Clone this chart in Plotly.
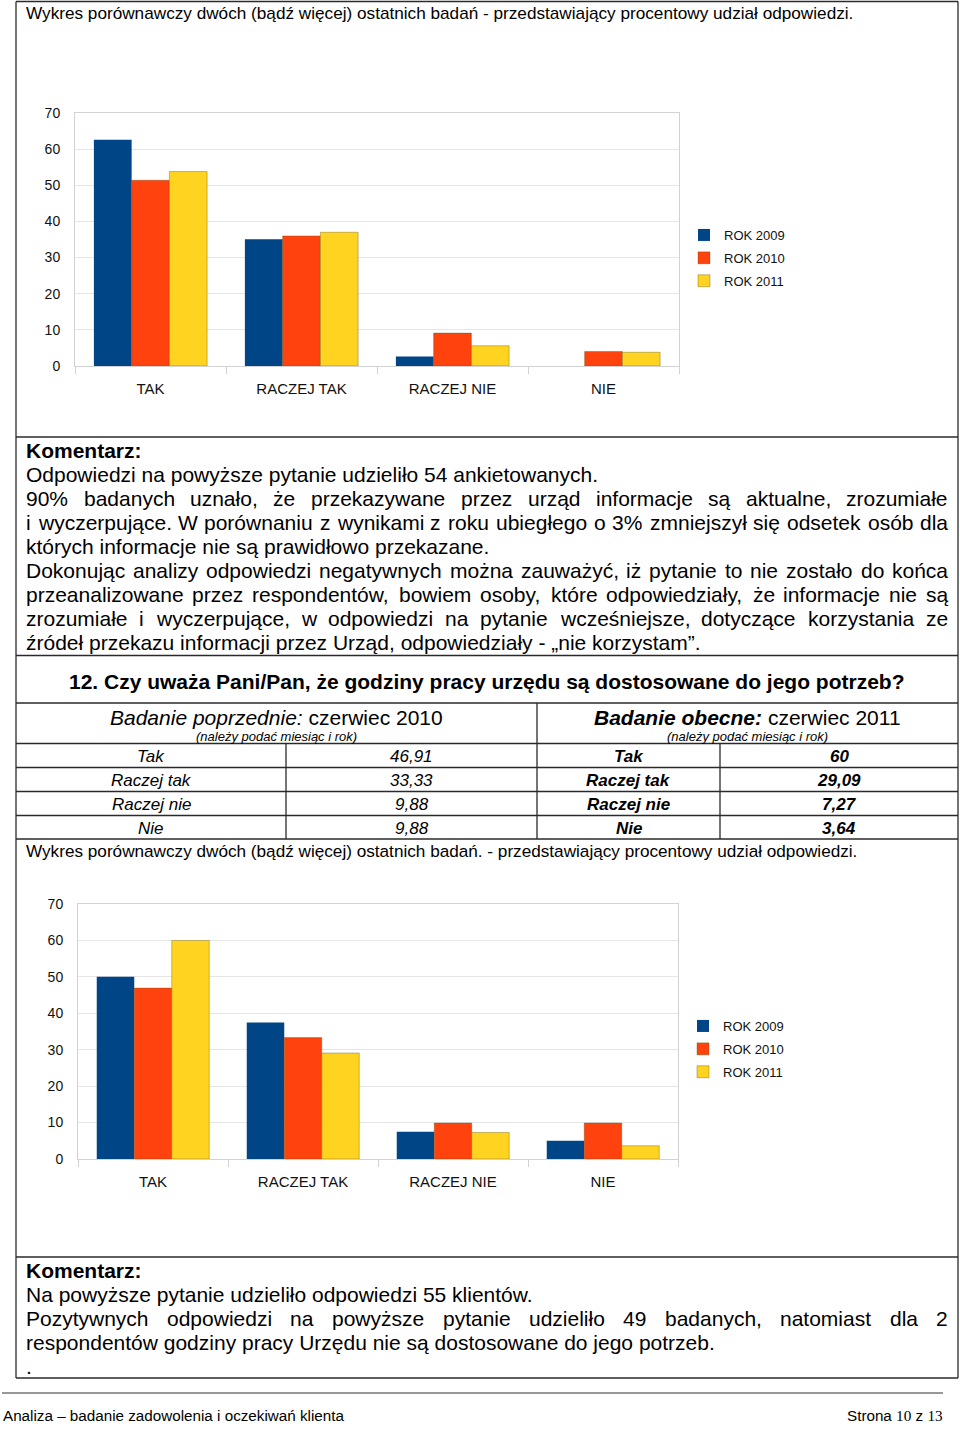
import plotly.graph_objects as go

W, H = 960, 1433

# ---------------- data ----------------
categories = ["TAK", "RACZEJ TAK", "RACZEJ NIE", "NIE"]
series_names = ["ROK 2009", "ROK 2010", "ROK 2011"]
colors = ["#004586", "#ff420e", "#ffd320"]
edge_widths = [0, 0.8, 0.8]

q11_2009 = [62.6, 35.1, 2.6, 0.0]
q11_2010 = [51.4, 36.0, 9.1, 4.0]
q11_2011 = [53.8, 37.0, 5.6, 3.8]

q12_2009 = [50.0, 37.5, 7.5, 5.0]
q12_2010 = [46.91, 33.33, 9.88, 9.88]
q12_2011 = [60.0, 29.09, 7.27, 3.64]

y_tickvals = [0, 10, 20, 30, 40, 50, 60, 70]
table_labels = ["Tak", "Raczej tak", "Raczej nie", "Nie"]

FONT = "Liberation Sans, Arial, sans-serif"

# --------------- helpers ---------------
def px(x):
    return x / W

def py(y):
    return 1 - y / H

REG = {' ': 278, '!': 278, '"': 355, '%': 889, '(': 333, ')': 333, ',': 278, '-': 333,
       '.': 278, '/': 278, ':': 278, '?': 556, '„': 333, '”': 333, '–': 556,
       'A': 667, 'B': 667, 'C': 722, 'D': 722, 'E': 667, 'F': 611, 'G': 778, 'H': 722,
       'I': 278, 'J': 500, 'K': 667, 'L': 556, 'M': 833, 'N': 722, 'O': 778, 'P': 667,
       'Q': 778, 'R': 722, 'S': 667, 'T': 611, 'U': 722, 'V': 667, 'W': 944, 'X': 667,
       'Y': 667, 'Z': 611,
       'a': 556, 'b': 556, 'c': 500, 'd': 556, 'e': 556, 'f': 278, 'g': 556, 'h': 556,
       'i': 222, 'j': 222, 'k': 500, 'l': 222, 'm': 833, 'n': 556, 'o': 556, 'p': 556,
       'q': 556, 'r': 333, 's': 500, 't': 278, 'u': 556, 'v': 500, 'w': 722, 'x': 500,
       'y': 500, 'z': 500,
       'ą': 556, 'ć': 500, 'ę': 556, 'ł': 222, 'ń': 556, 'ó': 556, 'ś': 500, 'ź': 500,
       'ż': 500, 'Ł': 556, 'Ś': 667, 'Ż': 611, 'Ź': 611}
for d in "0123456789":
    REG[d] = 556


def tw(s):
    return sum(REG.get(c, 556) for c in s) / 1000.0


annotations = []
shapes = []


def text(x, y, s, size, anchor="left", color="#000", family=FONT):
    annotations.append(dict(x=px(x), y=py(y), xref="paper", yref="paper", text=s,
                            showarrow=False, xanchor=anchor, yanchor="middle",
                            borderpad=0, borderwidth=0,
                            font=dict(size=size, family=family, color=color)))


def justified(line, y, x0, x1, size):
    words = line.split(" ")
    widths = [tw(w) * size for w in words]
    gap = (x1 - x0 - sum(widths)) / (len(words) - 1)
    x = x0
    for w, wd in zip(words, widths):
        text(x, y, w, size)
        x += wd + gap


def hline(y, x0, x1, color="#2a2a2a", width=1.3):
    shapes.append(dict(type="line", xref="paper", yref="paper", x0=px(x0), x1=px(x1),
                       y0=py(y), y1=py(y), line=dict(color=color, width=width)))


def vline(x, y0, y1, color="#2a2a2a", width=1.3):
    shapes.append(dict(type="line", xref="paper", yref="paper", x0=px(x), x1=px(x),
                       y0=py(y0), y1=py(y1), line=dict(color=color, width=width)))


def fit(s, width):
    return width / tw(s)


# --------------- figure ---------------
fig = go.Figure()
for name, vals, col, ew in zip(series_names, [q11_2009, q11_2010, q11_2011], colors, edge_widths):
    fig.add_trace(go.Bar(x=categories, y=vals, name=name, xaxis="x", yaxis="y",
                         legend="legend", legendgroup=name + "a",
                         marker=dict(color=col, line=dict(color="rgba(90,80,0,0.45)", width=ew))))
for name, vals, col, ew in zip(series_names, [q12_2009, q12_2010, q12_2011], colors, edge_widths):
    fig.add_trace(go.Bar(x=categories, y=vals, name=name, xaxis="x2", yaxis="y2",
                         legend="legend2", legendgroup=name + "b",
                         marker=dict(color=col, line=dict(color="rgba(90,80,0,0.45)", width=ew))))

AXC = "#d2d2d2"
xcommon = dict(type="category", showline=True, linecolor=AXC, linewidth=1, mirror=True,
               ticks="outside", tickson="boundaries", ticklen=7, tickcolor=AXC,
               tickfont=dict(size=15, family=FONT, color="#111"), showgrid=False,
               ticklabelstandoff=9, fixedrange=True, automargin=False)
ycommon = dict(range=[0, 70], tickvals=y_tickvals, showgrid=True, gridcolor="#e6e6e6",
               showline=True, linecolor=AXC, linewidth=1, mirror=True, ticks="",
               zeroline=False, tickfont=dict(size=14, family=FONT, color="#111"),
               ticklabelstandoff=11, fixedrange=True, automargin=False)

fig.update_layout(
    width=W, height=H, autosize=False,
    margin=dict(l=0, r=0, t=0, b=0, pad=0, autoexpand=False),
    paper_bgcolor="white", plot_bgcolor="white",
    font=dict(family=FONT, color="#000"),
    bargap=0.25, bargroupgap=0, barmode="group", showlegend=True,
    xaxis=dict(domain=[px(75), px(679)], anchor="y", **xcommon),
    yaxis=dict(domain=[py(366), py(113)], anchor="x", **ycommon),
    xaxis2=dict(domain=[px(78), px(678)], anchor="y2", **xcommon),
    yaxis2=dict(domain=[py(1159), py(904)], anchor="x2", **ycommon),
    legend=dict(x=px(684), y=py(220), xanchor="left", yanchor="top",
                font=dict(size=13, family=FONT, color="#111"), bgcolor="rgba(0,0,0,0)",
                tracegroupgap=3, itemwidth=30),
    legend2=dict(x=px(683), y=py(1011), xanchor="left", yanchor="top",
                 font=dict(size=13, family=FONT, color="#111"), bgcolor="rgba(0,0,0,0)",
                 tracegroupgap=3, itemwidth=30),
)

# --------------- frame lines ---------------
L, R = 16, 958
hline(1.5, L, R)
hline(437, L, R)
hline(655.5, L, R)
hline(703, L, R)
hline(743.5, L, R)
hline(767.5, L, R)
hline(791.5, L, R)
hline(815.5, L, R)
hline(839, L, R)
hline(1257, L, R)
hline(1378, L, R)
vline(L, 1.5, 1378)
vline(R, 1.5, 1378)
vline(537, 703, 839)
vline(286, 743.5, 839)
vline(720, 743.5, 839)
hline(1393, 2, 943, color="#333", width=1.2)

# --------------- texts ---------------
hdr1 = "Wykres porównawczy dwóch (bądź więcej) ostatnich badań - przedstawiający procentowy udział odpowiedzi."
text(26, 13, hdr1, fit(hdr1, 828))

BODY = 21
text(26, 450, "<b>Komentarz:</b>", BODY)
com1 = [
    ("Odpowiedzi na powyższe pytanie udzieliło 54 ankietowanych.", False),
    ("90% badanych uznało, że przekazywane przez urząd informacje są aktualne, zrozumiałe", True),
    ("i wyczerpujące. W porównaniu z wynikami z roku ubiegłego o 3% zmniejszył się odsetek osób dla", True),
    ("których informacje nie są prawidłowo przekazane.", False),
    ("Dokonując analizy odpowiedzi negatywnych można zauważyć, iż pytanie to nie zostało do końca", True),
    ("przeanalizowane przez respondentów, bowiem osoby, które odpowiedziały, że informacje nie są", True),
    ("zrozumiałe i wyczerpujące, w odpowiedzi na pytanie wcześniejsze, dotyczące korzystania ze", True),
    ("źródeł przekazu informacji przez Urząd, odpowiedziały - „nie korzystam”.", False),
]
for i, (ln, just) in enumerate(com1):
    y = 474 + i * 24.1
    if just:
        justified(ln, y, 26, 948, BODY)
    else:
        text(26, y, ln, BODY)

text(487, 681, "<b>12. Czy uważa Pani/Pan, że godziny pracy urzędu są dostosowane do jego potrzeb?</b>",
     BODY, anchor="center")

# table
text(276.5, 717, "<i>Badanie poprzednie:</i> czerwiec 2010", BODY, anchor="center")
text(747.5, 717, "<b><i>Badanie obecne:</i></b> czerwiec 2011", BODY, anchor="center")
text(276.5, 736.5, "<i>(należy podać miesiąc i rok)</i>", 13, anchor="center")
text(747.5, 736.5, "<i>(należy podać miesiąc i rok)</i>", 13, anchor="center")


def fmt(v):
    return f"{v:g}".replace(".", ",")


for i, lab in enumerate(table_labels):
    y = 756 + i * 24
    text(151, y, f"<i>{lab}</i>", 17, anchor="center")
    text(411.5, y, f"<i>{fmt(q12_2010[i])}</i>", 17, anchor="center")
    text(628.5, y, f"<b><i>{lab}</i></b>", 17, anchor="center")
    text(839, y, f"<b><i>{fmt(q12_2011[i])}</i></b>", 17, anchor="center")

hdr2 = "Wykres porównawczy dwóch (bądź więcej) ostatnich badań. - przedstawiający procentowy udział odpowiedzi."
text(26, 851, hdr2, fit(hdr2, 832))

text(26, 1270, "<b>Komentarz:</b>", BODY)
text(26, 1294, "Na powyższe pytanie udzieliło odpowiedzi 55 klientów.", BODY)
justified("Pozytywnych odpowiedzi na powyższe pytanie udzieliło 49 badanych, natomiast dla 2",
          1318.5, 26, 948, BODY)
text(26, 1342.5, "respondentów godziny pracy Urzędu nie są dostosowane do jego potrzeb.", BODY)
text(26, 1366, ".", BODY)

ftr = "Analiza – badanie zadowolenia i oczekiwań klienta"
FS = fit(ftr, 341)
text(3, 1415, ftr, FS)
text(943, 1415,
     'Strona <span style="font-family:Liberation Serif, Times New Roman, serif">10</span> z '
     '<span style="font-family:Liberation Serif, Times New Roman, serif">13</span>',
     FS, anchor="right")

fig.update_layout(annotations=annotations, shapes=shapes)
fig.write_html(
    "out.html", config=dict(displayModeBar=False, staticPlot=True),
    post_script=(
        "var h=document.documentElement,b=document.body;"
        "h.style.margin='0';h.style.padding='0';h.style.overflow='hidden';"
        "b.style.margin='0';b.style.padding='0';b.style.overflow='hidden';"
    ),
)
